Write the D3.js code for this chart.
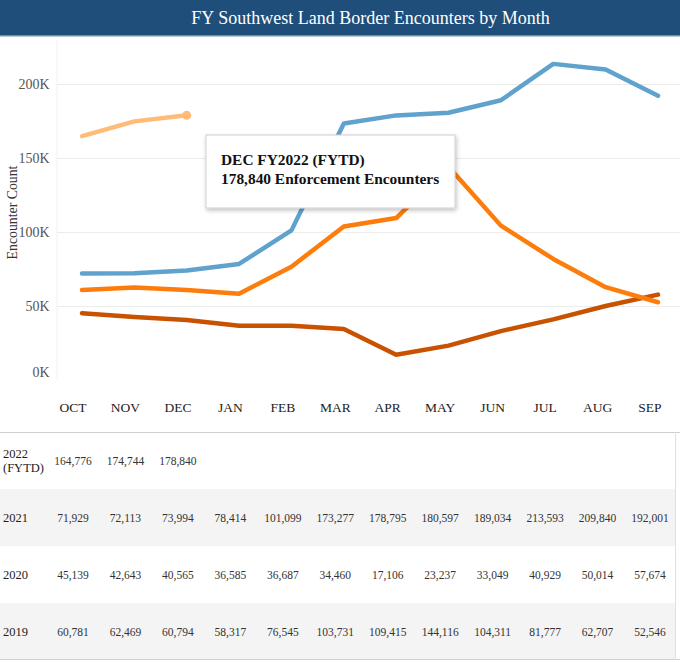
<!DOCTYPE html>
<html>
<head>
<meta charset="utf-8">
<script src="https://cdn.jsdelivr.net/npm/d3@7"></script>
<style>
  html, body { margin: 0; padding: 0; background: #fff; }
  svg { display: block; }
</style>
</head>
<body>
<svg id="chart" width="680" height="662"></svg>
<script>
// ---------- DATA ----------
const months = ["OCT","NOV","DEC","JAN","FEB","MAR","APR","MAY","JUN","JUL","AUG","SEP"];
const fy2022 = [164776, 174744, 178840];
const fy2021 = [71929, 72113, 73994, 78414, 101099, 173277, 178795, 180597, 189034, 213593, 209840, 192001];
const fy2020 = [45139, 42643, 40565, 36585, 36687, 34460, 17106, 23237, 33049, 40929, 50014, 57674];
const fy2019 = [60781, 62469, 60794, 58317, 76545, 103731, 109415, 144116, 104311, 81777, 62707, 52546];
const rowLabels = [["2022", "(FYTD)"], ["2021"], ["2020"], ["2019"]];
const yTicks = [0, 50000, 100000, 150000, 200000];
const title = "FY Southwest Land Border Encounters by Month";
const yTitle = "Encounter Count";
const tooltipLines = ["DEC FY2022 (FYTD)", "178,840 Enforcement Encounters"];

const series = [
  { key: "2020", values: fy2020, color: "#c85200" },
  { key: "2019", values: fy2019, color: "#fc7d0b" },
  { key: "2021", values: fy2021, color: "#5fa2ce" },
  { key: "2022", values: fy2022, color: "#ffbc79" }
];
const tableRows = [fy2022, fy2021, fy2020, fy2019];

// ---------- DRAW ----------
const serif = "'Liberation Serif', 'Times New Roman', serif";
const svg = d3.select("#chart");

// Title bar
svg.append("rect").attr("x", 0).attr("y", 0).attr("width", 680).attr("height", 36).attr("fill", "#1f4e7a");
svg.append("rect").attr("x", 0).attr("y", 35).attr("width", 680).attr("height", 1.5).attr("fill", "#6f8fae");
svg.append("text").attr("x", 370.5).attr("y", 24).attr("text-anchor", "middle")
  .attr("font-family", serif).attr("font-size", 18).attr("fill", "#fff").text(title);

const x = d3.scalePoint().domain(months).range([82, 658]);
const y = d3.scaleLinear().domain([0, 200000]).range([380, 84]);

// left axis line (faint)
svg.append("line").attr("x1", 57).attr("x2", 57).attr("y1", 40).attr("y2", 380)
  .attr("stroke", "#f2f2f2").attr("stroke-width", 1);

// gridlines
svg.append("g").selectAll("line").data(yTicks.filter(d => d > 0)).join("line")
  .attr("x1", 57).attr("x2", 680)
  .attr("y1", d => Math.round(y(d)) + 0.5).attr("y2", d => Math.round(y(d)) + 0.5)
  .attr("stroke", "#ececec").attr("stroke-width", 1);

// y tick labels
const fmtK = d => (d / 1000) + "K";
svg.append("g").selectAll("text").data(yTicks).join("text")
  .attr("x", 49.5).attr("y", d => d === 0 ? y(d) - 8 : y(d))
  .attr("dy", "0.35em").attr("text-anchor", "end")
  .attr("font-family", serif).attr("font-size", 14).attr("fill", "#555")
  .text(fmtK);

// y title
svg.append("text").attr("transform", "translate(17,212.5) rotate(-90)")
  .attr("text-anchor", "middle").attr("font-family", serif).attr("font-size", 13.8)
  .attr("fill", "#333").text(yTitle);

// lines
const line = d3.line().x((d, i) => x(months[i])).y(d => y(d));
svg.append("g").selectAll("path").data(series).join("path")
  .attr("d", d => line(d.values))
  .attr("fill", "none").attr("stroke", d => d.color).attr("stroke-width", 4.5)
  .attr("stroke-linejoin", "round").attr("stroke-linecap", "round");

// highlighted point DEC 2022
svg.append("circle").attr("cx", x(months[fy2022.length - 1])).attr("cy", y(fy2022[fy2022.length - 1]))
  .attr("r", 4.5).attr("fill", "#ffbc79");

// tooltip
const tip = svg.append("g");
const defs = svg.append("defs");
const f = defs.append("filter").attr("id", "shadow").attr("x", "-10%").attr("y", "-20%").attr("width", "130%").attr("height", "150%");
f.append("feDropShadow").attr("dx", 1).attr("dy", 2).attr("stdDeviation", 2).attr("flood-color", "#000").attr("flood-opacity", 0.25);
tip.append("rect").attr("x", 206).attr("y", 135).attr("width", 249).attr("height", 73)
  .attr("fill", "#fff").attr("stroke", "#cfcfcf").attr("stroke-width", 1).attr("filter", "url(#shadow)");
tip.selectAll("text").data(tooltipLines).join("text")
  .attr("x", 221).attr("y", (d, i) => 165 + i * 19)
  .attr("font-family", serif).attr("font-size", 15.4).attr("font-weight", "bold").attr("fill", "#111")
  .text(d => d);

// ---------- TABLE ----------
const colX = d3.scalePoint().domain(months).range([73, 650]);
svg.append("g").selectAll("text").data(months).join("text")
  .attr("x", d => colX(d)).attr("y", 407).attr("dy", "0.35em").attr("text-anchor", "middle")
  .attr("font-family", serif).attr("font-size", 13.5).attr("fill", "#222").text(d => d);

const rowTop = 432, rowH = 57;
const rows = svg.append("g").selectAll("g").data(tableRows).join("g")
  .attr("transform", (d, i) => `translate(0,${rowTop + i * rowH})`);
rows.append("rect").attr("x", 0).attr("y", 0).attr("width", 675).attr("height", rowH)
  .attr("fill", (d, i) => i % 2 === 1 ? "#f4f4f4" : "#fff");
rows.each(function (vals, i) {
  const g = d3.select(this);
  const lbl = rowLabels[i];
  g.selectAll("text.lbl").data(lbl).join("text").attr("class", "lbl")
    .attr("x", 3).attr("y", (d, j) => rowH / 2 + (j - (lbl.length - 1) / 2) * 13.5)
    .attr("dy", "0.35em").attr("font-family", serif).attr("font-size", 12.5).attr("fill", "#222").text(d => d);
  g.selectAll("text.val").data(vals).join("text").attr("class", "val")
    .attr("x", (d, j) => colX(months[j])).attr("y", rowH / 2).attr("dy", "0.35em")
    .attr("text-anchor", "middle").attr("font-family", serif).attr("font-size", 11.5).attr("fill", "#333")
    .text(d => d3.format(",")(d));
});
// table borders
svg.append("line").attr("x1", 0).attr("x2", 680).attr("y1", rowTop + 0.5).attr("y2", rowTop + 0.5).attr("stroke", "#cfcfcf");
svg.append("line").attr("x1", 0).attr("x2", 680).attr("y1", rowTop + 4 * rowH - 0.5).attr("y2", rowTop + 4 * rowH - 0.5).attr("stroke", "#cfcfcf");
svg.append("line").attr("x1", 675.5).attr("x2", 675.5).attr("y1", rowTop).attr("y2", rowTop + 4 * rowH).attr("stroke", "#e0e0e0");
</script>
</body>
</html>
